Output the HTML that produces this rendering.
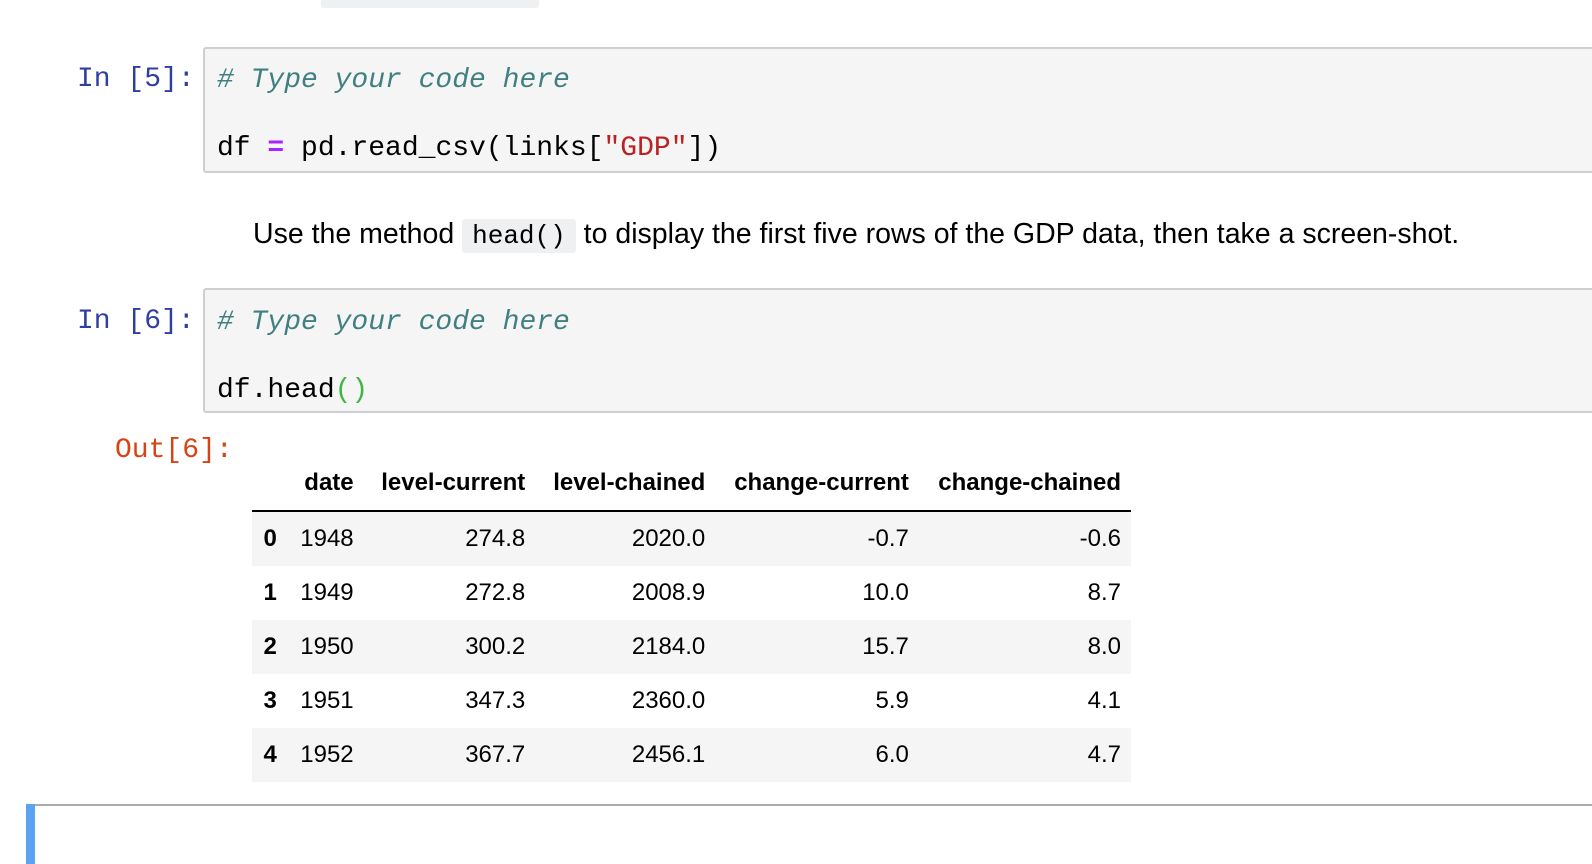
<!DOCTYPE html>
<html><head><meta charset="utf-8"><style>
body{margin:0;width:1592px;height:854px;background:#fff;position:relative;overflow:hidden;font-family:"Liberation Sans",sans-serif;}
.abs{position:absolute;}
.mono{font-family:"Liberation Mono",monospace;font-size:28px;white-space:pre;}
.cell{position:absolute;left:203px;width:1400px;background:#f5f5f5;border:2px solid #cfcfcf;border-radius:3px;box-sizing:border-box;}
.prompt{color:#303f9f;}
.cm{color:#408080;font-style:italic;}
table{border-collapse:collapse;font-size:24px;color:#000;}
td,th{height:54px;padding:0 10px;text-align:right;}
th{font-weight:bold;}
tbody tr:nth-child(odd){background:#f5f5f5;}
</style></head><body>
<div class="abs" style="left:321px;top:-12px;width:218px;height:20px;background:#eff0f1;border-radius:3px;"></div>

<div class="abs mono prompt" style="left:77px;top:64px;">In [5]:</div>
<div class="cell" style="top:47px;height:126px;">
<div class="abs mono" style="left:12px;top:15px;line-height:34px;"><span class="cm">#&nbsp;Type your code here</span>

df <span style="color:#aa22ff;font-weight:bold">=</span> pd.read_csv(links[<span style="color:#ba2121">"GDP"</span>])</div>
</div>

<div class="abs" style="left:253px;top:218px;font-size:28.5px;white-space:nowrap;">Use the method <span class="mono" style="font-size:26px;background:#eff0f1;padding:2px 10px;border-radius:3px;">head()</span> to display the first five rows of the GDP data, then take a screen-shot.</div>

<div class="abs mono prompt" style="left:77px;top:306px;">In [6]:</div>
<div class="cell" style="top:288px;height:125px;">
<div class="abs mono" style="left:12px;top:16px;line-height:34px;"><span class="cm">#&nbsp;Type your code here</span>

df.head<span style="color:#3fb63f">()</span></div>
</div>

<div class="abs mono" style="left:115px;top:435px;color:#d84315;">Out[6]:</div>

<table class="abs" style="left:252px;top:456px;width:879px;">
<thead><tr style="border-bottom:2px solid #000;"><th></th><th>date</th><th>level-current</th><th>level-chained</th><th>change-current</th><th>change-chained</th></tr></thead>
<tbody>
<tr><th>0</th><td>1948</td><td>274.8</td><td>2020.0</td><td>-0.7</td><td>-0.6</td></tr>
<tr><th>1</th><td>1949</td><td>272.8</td><td>2008.9</td><td>10.0</td><td>8.7</td></tr>
<tr><th>2</th><td>1950</td><td>300.2</td><td>2184.0</td><td>15.7</td><td>8.0</td></tr>
<tr><th>3</th><td>1951</td><td>347.3</td><td>2360.0</td><td>5.9</td><td>4.1</td></tr>
<tr><th>4</th><td>1952</td><td>367.7</td><td>2456.1</td><td>6.0</td><td>4.7</td></tr>
</tbody></table>

<div class="abs" style="left:26px;top:804px;width:9px;height:60px;background:#5da4f0;"></div>
<div class="abs" style="left:35px;top:804px;width:1600px;height:2px;background:#ababab;"></div>
</body></html>
